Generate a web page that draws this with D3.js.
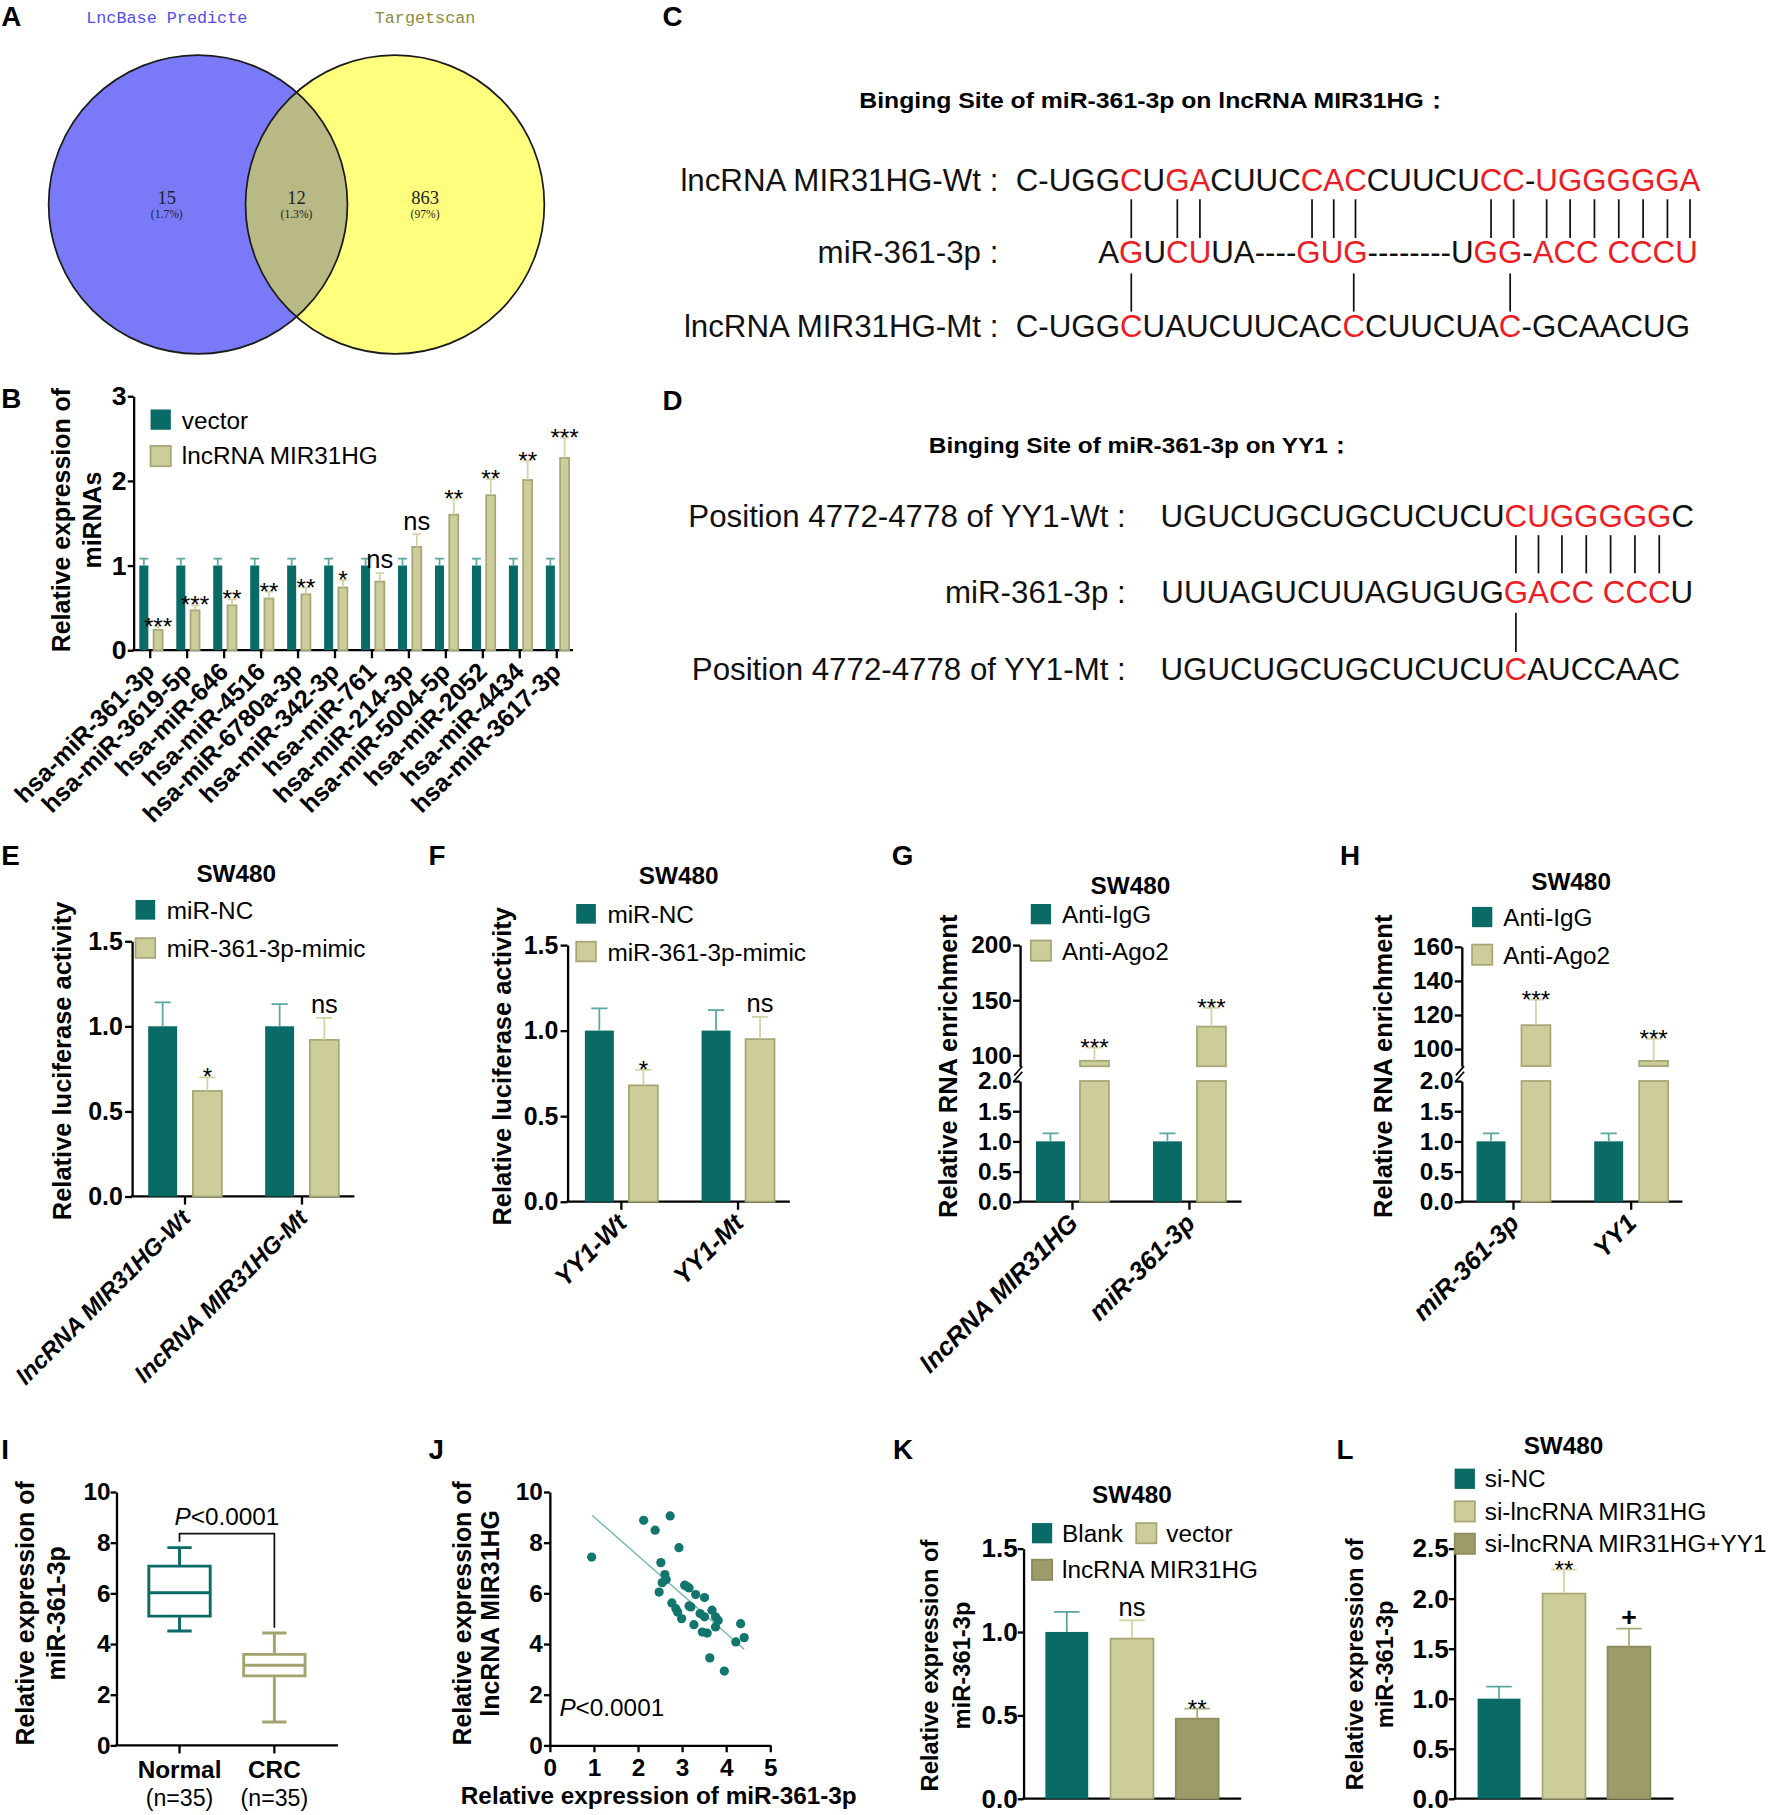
<!DOCTYPE html>
<html>
<head>
<meta charset="utf-8">
<title>MIR31HG / miR-361-3p / YY1</title>
<script src="https://cdn.jsdelivr.net/npm/d3@7"></script>
<style>
  body { margin: 0; background: #fff; }
  svg text { font-family: "Liberation Sans", Arial, Helvetica, sans-serif; }
</style>
</head>
<body>
<svg id="fig" width="1772" height="1815" viewBox="0 0 1530 1567"></svg>
<script>
// ---------- data ----------
// A: Venn
const vennSets = ["LncBase Predicte", "Targetscan"];
const vennCounts = [15, 12, 863];
const vennPct = ["(1.7%)", "(1.3%)", "(97%)"];

// B: miRNA screen
const bMirnas = ["hsa-miR-361-3p", "hsa-miR-3619-5p", "hsa-miR-646", "hsa-miR-4516",
  "hsa-miR-6780a-3p", "hsa-miR-342-3p", "hsa-miR-761", "hsa-miR-214-3p",
  "hsa-miR-5004-5p", "hsa-miR-2052", "hsa-miR-4434", "hsa-miR-3617-3p"];
const bVector = [1, 1, 1, 1, 1, 1, 1, 1, 1, 1, 1, 1];
const bVectorErr = [0.08, 0.08, 0.08, 0.08, 0.08, 0.08, 0.08, 0.08, 0.08, 0.08, 0.08, 0.08];
const bLnc = [0.24, 0.47, 0.53, 0.61, 0.66, 0.74, 0.81, 1.22, 1.60, 1.83, 2.01, 2.27];
const bLncErr = [0.04, 0.06, 0.07, 0.08, 0.08, 0.09, 0.10, 0.15, 0.19, 0.19, 0.23, 0.24];
const bSig = ["***", "***", "**", "**", "**", "*", "ns", "ns", "**", "**", "**", "***"];

// C / D: binding sites
const cRows = [
  { label: "lncRNA MIR31HG-Wt :", seq: "C-UGGCUGACUUCCACCUUCUCC-UGGGGGA", red: [5, 7, 8, 13, 14, 15, 21, 22, 24, 25, 26, 27, 28, 29, 30] },
  { label: "miR-361-3p :", seq: "AGUCUUA----GUG--------UGG-ACC CCCU", red: [1, 3, 4, 11, 12, 13, 23, 24, 26, 27, 28, 30, 31, 32, 33] },
  { label: "lncRNA MIR31HG-Mt :", seq: "C-UGGCUAUCUUCACCCUUCUAC-GCAACUG", red: [5, 15, 22] }
];
const cTopPairs = [[5, 1], [7, 3], [8, 4], [13, 11], [14, 12], [15, 13], [21, 23], [22, 24],
  [24, 26], [25, 27], [26, 28], [27, 30], [28, 31], [29, 32], [30, 33]];
const cBottomPairs = [[1, 5], [13, 15], [24, 22]];
const dRows = [
  { label: "Position 4772-4778 of YY1-Wt :", seq: "UGUCUGCUGCUCUCUCUGGGGGC", red: [15, 16, 17, 18, 19, 20, 21] },
  { label: "miR-361-3p :", seq: "UUUAGUCUUAGUGUGGACC CCCU", red: [15, 16, 17, 18, 20, 21, 22] },
  { label: "Position 4772-4778 of YY1-Mt :", seq: "UGUCUGCUGCUCUCUCAUCCAAC", red: [15] }
];
const dTopPairs = [[15, 15], [16, 16], [17, 17], [18, 18], [19, 20], [20, 21], [21, 22]];
const dBottomPairs = [[15, 15]];

// E / F: luciferase
const eGroups = ["lncRNA MIR31HG-Wt", "lncRNA MIR31HG-Mt"];
const eNC = [1, 1], eNCErr = [0.14, 0.13];
const eMimic = [0.62, 0.92], eMimicErr = [0.08, 0.13];
const eSig = ["*", "ns"];
const fGroups = ["YY1-Wt", "YY1-Mt"];
const fNC = [1, 1], fNCErr = [0.13, 0.12];
const fMimic = [0.68, 0.95], fMimicErr = [0.09, 0.13];
const fSig = ["*", "ns"];

// G / H: RIP
const gGroups = ["lncRNA MIR31HG", "miR-361-3p"];
const gIgG = [1, 1], gIgGErr = [0.13, 0.13];
const gAgo = [95, 126], gAgoErr = [12, 17];
const hGroups = ["miR-361-3p", "YY1"];
const hIgG = [1, 1], hIgGErr = [0.13, 0.13];
const hAgo = [114, 93], hAgoErr = [15, 13];
const ripSig = ["***", "***"];

// I: box plot
const iGroups = ["Normal", "CRC"];
const iCounts = ["(n=35)", "(n=35)"];
const iMin = [4.51, 0.92], iQ1 = [5.10, 2.74], iMed = [6.02, 3.16], iQ3 = [7.07, 3.59], iMax = [7.80, 4.43];

// J: correlation
const jX = [0.95, 2.13, 2.39, 2.73, 2.93, 2.52, 2.61, 2.64, 2.55, 2.48, 3.06, 3.16, 3.31, 3.51, 2.77, 2.86, 2.90, 2.99,
  3.16, 3.20, 3.41, 3.51, 3.68, 3.76, 3.82, 3.27, 3.46, 3.57, 3.76, 4.33, 4.22, 4.41, 3.63, 3.96, 3.10];
const jY = [7.43, 8.88, 8.49, 9.05, 7.80, 7.21, 6.74, 6.54, 6.42, 6.05, 6.32, 6.21, 5.95, 5.83, 5.62, 5.39, 5.26, 5.00,
  5.50, 5.46, 5.20, 5.07, 5.33, 5.07, 4.93, 4.76, 4.47, 4.43, 4.67, 4.80, 4.08, 4.25, 3.45, 2.93, 6.28];
const jFitX = [0.96, 4.41], jFitY = [9.08, 3.79];

// K / L
const kGroups = ["Blank", "vector", "lncRNA MIR31HG"];
const kVal = [1, 0.96, 0.48], kErr = [0.12, 0.11, 0.06], kSig = ["", "ns", "**"];
const lGroups = ["si-NC", "si-lncRNA MIR31HG", "si-lncRNA MIR31HG+YY1"];
const lVal = [1, 2.05, 1.52], lErr = [0.12, 0.24, 0.18], lSig = ["", "**", "+"];

// ---------- styling ----------
const TEAL = "#0a6a65", TEAL_ERR = "#5aa6a1";
const KHAKI = "#cdcd9b", KHAKI_LINE = "#a6a675", KHAKI_ERR = "#d2d2a3";
const OLIVE = "#9c9c6a", OLIVE_LINE = "#8b8b5b", OLIVE_ERR = "#a8a879";
const RED = "#ee1c24";

const svg = d3.select("#fig");
const defs = svg.append("defs");

function leftAxis(g, scale, x, ticks, fmt, fs, size, pad) {
  const a = g.append("g").attr("transform", `translate(${x},0)`)
    .call(d3.axisLeft(scale).tickValues(ticks).tickFormat(fmt)
      .tickSize(size).tickSizeOuter(0).tickPadding(pad));
  a.select(".domain").attr("stroke-width", 2);
  a.selectAll(".tick line").attr("stroke-width", 2);
  a.selectAll(".tick text").attr("font-size", fs).attr("font-weight", "bold").attr("fill", "#000");
  return a;
}

function baseAxis(g, x0, x1, y, centers) {
  g.append("line").attr("x1", x0 - 1).attr("x2", x1).attr("y1", y).attr("y2", y)
    .attr("stroke", "#000").attr("stroke-width", 2);
  g.selectAll(null).data(centers).join("line")
    .attr("x1", d => d).attr("x2", d => d).attr("y1", y).attr("y2", y + 7)
    .attr("stroke", "#000").attr("stroke-width", 2);
}

function errBars(g, items, y, cap) {
  g.selectAll(null).data(items).join("path")
    .attr("d", d => `M${d.cx},${y(d.v)}V${y(d.v + d.e)}M${d.cx - cap},${y(d.v + d.e)}H${d.cx + cap}`)
    .attr("fill", "none").attr("stroke", d => d.ec).attr("stroke-width", 1.5);
}

function drawBars(g, items, y, bw, cap) {
  g.selectAll(null).data(items).join("rect")
    .attr("x", d => d.cx - bw / 2).attr("width", bw)
    .attr("y", d => y(d.v)).attr("height", d => y(0) - y(d.v))
    .attr("fill", d => d.fill).attr("stroke", d => d.stroke || "none").attr("stroke-width", 1.5);
  errBars(g, items, y, cap);
}

function sigMark(g, x, yTop, s) {
  if (!s) return;
  const t = g.append("text").attr("x", x).attr("text-anchor", "middle").text(s);
  if (s === "ns") t.attr("y", yTop - 4).attr("font-size", 22);
  else if (s === "+") t.attr("y", yTop - 2).attr("font-size", 23).attr("font-weight", "bold");
  else t.attr("y", yTop + 7).attr("font-size", 21);
}

function yTitle(g, lines, xs, y, fs) {
  lines.forEach((s, i) => g.append("text")
    .attr("transform", `translate(${xs[i]},${y}) rotate(-90)`)
    .attr("text-anchor", "middle").attr("font-size", fs).attr("font-weight", "bold").text(s));
}

function slantLabels(g, labels, xs, y0, fs, italic, dx) {
  g.selectAll(null).data(labels).join("text")
    .attr("transform", (d, i) => `translate(${xs[i] + dx},${y0 + 20}) rotate(-45)`)
    .attr("text-anchor", "end").attr("font-size", fs).attr("font-weight", "bold")
    .attr("font-style", italic ? "italic" : null).text(d => d);
}

function legend(g, entries, size) {
  g.selectAll(null).data(entries).join("rect")
    .attr("x", d => d.x).attr("y", d => d.y).attr("width", size).attr("height", size)
    .attr("fill", d => d.fill).attr("stroke", d => d.stroke || "none").attr("stroke-width", 1.5);
  g.selectAll(null).data(entries).join("text")
    .attr("x", d => d.tx).attr("y", d => d.ty).attr("font-size", 21).text(d => d.text);
}

function title(g, x, y, s) {
  g.append("text").attr("x", x).attr("y", y).attr("text-anchor", "middle")
    .attr("font-size", 21).attr("font-weight", "bold").text(s);
}

// ---------- panel letters ----------
const letters = ["A", "B", "C", "D", "E", "F", "G", "H", "I", "J", "K", "L"];
const letterXY = [[1, 22], [1, 352], [572, 22], [572, 354], [1, 747], [370, 747], [770, 747], [1157, 747],
  [1, 1260], [370, 1260], [771, 1260], [1154, 1260]];
svg.append("g").selectAll("text").data(letters).join("text")
  .attr("x", (d, i) => letterXY[i][0]).attr("y", (d, i) => letterXY[i][1])
  .attr("font-size", 24).attr("font-weight", "bold").text(d => d);

// ---------- A: Venn ----------
{
  const g = svg.append("g");
  const cx = [171, 341], cy = 176.5, r = 129;
  defs.append("clipPath").attr("id", "vennLeft").append("circle").attr("cx", cx[0]).attr("cy", cy).attr("r", r);
  g.append("circle").attr("cx", cx[0]).attr("cy", cy).attr("r", r).attr("fill", "#7a7af8");
  g.append("circle").attr("cx", cx[1]).attr("cy", cy).attr("r", r).attr("fill", "#ffff7e");
  g.append("circle").attr("cx", cx[1]).attr("cy", cy).attr("r", r).attr("fill", "#b9b985")
    .attr("clip-path", "url(#vennLeft)");
  g.selectAll(".ring").data(cx).join("circle").attr("class", "ring")
    .attr("cx", d => d).attr("cy", cy).attr("r", r)
    .attr("fill", "none").attr("stroke", "#1a1a1a").attr("stroke-width", 1.5);
  g.selectAll(".setname").data(vennSets).join("text").attr("class", "setname")
    .attr("x", (d, i) => [144, 367][i]).attr("y", 19.5).attr("text-anchor", "middle")
    .attr("font-size", 14.5).attr("fill", (d, i) => ["#5050f0", "#8c8c40"][i])
    .style("font-family", '"Liberation Mono", "DejaVu Sans Mono", monospace').text(d => d);
  const lx = [144, 256, 367];
  g.selectAll(".cnt").data(vennCounts).join("text").attr("class", "cnt")
    .attr("x", (d, i) => lx[i]).attr("y", 176).attr("text-anchor", "middle").attr("font-size", 16)
    .attr("fill", "#222").style("font-family", '"Liberation Serif", "DejaVu Serif", serif').text(d => d);
  g.selectAll(".pct").data(vennPct).join("text").attr("class", "pct")
    .attr("x", (d, i) => lx[i]).attr("y", 188).attr("text-anchor", "middle").attr("font-size", 10)
    .attr("fill", "#222").style("font-family", '"Liberation Serif", "DejaVu Serif", serif').text(d => d);
}

// ---------- B: miRNA screen ----------
{
  const g = svg.append("g");
  const y = d3.scaleLinear().domain([0, 3]).range([561.3, 342]);
  const x = d3.scalePoint().domain(bMirnas).range([129.7, 480.7]);
  leftAxis(g, y, 115.3, [0, 1, 2, 3], d3.format("d"), 23, 5, 1);
  baseAxis(g, 115.3, 494.8, y(0), bMirnas.map(x));
  const vec = bMirnas.map((m, i) => ({ cx: x(m) - 5.5, v: bVector[i], e: bVectorErr[i], fill: TEAL, ec: TEAL_ERR }));
  const lnc = bMirnas.map((m, i) => ({ cx: x(m) + 6.8, v: bLnc[i], e: bLncErr[i], fill: KHAKI, stroke: KHAKI_LINE, ec: KHAKI_ERR }));
  drawBars(g, vec, y, 7.8, 3.8);
  drawBars(g, lnc, y, 7.8, 3.8);
  lnc.forEach((d, i) => sigMark(g, d.cx, y(d.v + d.e), bSig[i]));
  slantLabels(g, bMirnas, bMirnas.map(x), y(0), 21.5, false, 5);
  yTitle(g, ["Relative expression of", "miRNAs"], [60.5, 87], 449, 21.5);
  legend(g, [
    { x: 130, y: 353.5, fill: TEAL, text: "vector", tx: 157, ty: 370 },
    { x: 130, y: 385, fill: KHAKI, stroke: KHAKI_LINE, text: "lncRNA MIR31HG", tx: 157, ty: 401 }
  ], 17.5);
}

// ---------- C / D: binding sites ----------
function seqBlock(rows, topPairs, bottomPairs, p) {
  const g = svg.append("g");
  g.append("text").attr("x", p.titleX).attr("y", p.titleY).attr("font-size", 19.5).attr("font-weight", "bold")
    .attr("textLength", p.titleW).attr("lengthAdjust", "spacingAndGlyphs").text(p.title);
  const nodes = rows.map((r, i) => {
    g.append("text").attr("x", p.labelX).attr("y", p.rowY[i]).attr("text-anchor", "end")
      .attr("font-size", 27).attr("fill", "#111").text(r.label);
    const t = g.append("text").attr("x", p.seqX).attr("y", p.rowY[i]).attr("font-size", 27);
    t.selectAll("tspan").data(r.seq.split("")).join("tspan")
      .attr("fill", (c, j) => r.red.includes(j) ? RED : "#111")
      .text(c => c === " " ? "\u00a0" : c);
    return t.node();
  });
  const mid = (node, i) => { const b = node.getExtentOfChar(i); return b.x + b.width / 2; };
  // slide the miRNA row so that its first paired base sits under its partner
  const [a1, a2] = topPairs[0];
  nodes[1].setAttribute("x", p.seqX + mid(nodes[0], a1) - mid(nodes[1], a2));
  g.selectAll(".top").data(topPairs).join("line").attr("class", "top")
    .attr("x1", d => mid(nodes[0], d[0])).attr("x2", d => mid(nodes[0], d[0]))
    .attr("y1", p.topLine[0]).attr("y2", p.topLine[1]).attr("stroke", "#111").attr("stroke-width", 1.5);
  g.selectAll(".bot").data(bottomPairs).join("line").attr("class", "bot")
    .attr("x1", d => mid(nodes[2], d[1])).attr("x2", d => mid(nodes[2], d[1]))
    .attr("y1", p.botLine[0]).attr("y2", p.botLine[1]).attr("stroke", "#111").attr("stroke-width", 1.5);
}
seqBlock(cRows, cTopPairs, cBottomPairs, {
  title: "Binging Site of miR-361-3p on lncRNA MIR31HG\uff1a", titleX: 742, titleY: 93, titleW: 509,
  labelX: 862, seqX: 877, rowY: [164.6, 227, 291], topLine: [172, 205.5], botLine: [236, 269]
});
seqBlock(dRows, dTopPairs, dBottomPairs, {
  title: "Binging Site of miR-361-3p on YY1\uff1a", titleX: 802, titleY: 391.5, titleW: 366,
  labelX: 972, seqX: 1002, rowY: [455, 521, 587], topLine: [462, 495], botLine: [529, 563]
});

// ---------- E / F: luciferase ----------
function luciferase(p) {
  const g = svg.append("g");
  const y = d3.scaleLinear().domain([0, 1.5]).range(p.yRange);
  const x = d3.scalePoint().domain(p.groups).range(p.xRange);
  leftAxis(g, y, p.axisX, [0, 0.5, 1, 1.5], d3.format(".1f"), 21.5, 6, 2);
  baseAxis(g, p.axisX, p.xEnd, y(0), p.groups.map(x));
  const nc = p.groups.map((k, i) => ({ cx: x(k) - p.off, v: p.nc[i], e: p.ncErr[i], fill: TEAL, ec: TEAL_ERR }));
  const mm = p.groups.map((k, i) => ({ cx: x(k) + p.off, v: p.mimic[i], e: p.mimicErr[i], fill: KHAKI, stroke: KHAKI_LINE, ec: KHAKI_ERR }));
  drawBars(g, nc, y, 25, 7);
  drawBars(g, mm, y, 25, 7);
  mm.forEach((d, i) => sigMark(g, d.cx, y(d.v + d.e), p.sig[i]));
  slantLabels(g, p.groups, p.groups.map(x), y(0), p.labelFs, true, 6);
  yTitle(g, ["Relative luciferase activity"], [p.yTitleX], p.yTitleY, 22);
  title(g, p.titleX, p.titleY, "SW480");
  legend(g, [
    { x: p.legX, y: p.legY[0], fill: TEAL, text: "miR-NC", tx: p.legX + 27, ty: p.legY[0] + 16.5 },
    { x: p.legX, y: p.legY[1], fill: KHAKI, stroke: KHAKI_LINE, text: "miR-361-3p-mimic", tx: p.legX + 27, ty: p.legY[1] + 16.5 }
  ], 17);
}
luciferase({ groups: eGroups, nc: eNC, ncErr: eNCErr, mimic: eMimic, mimicErr: eMimicErr, sig: eSig,
  yRange: [1033, 812.6], xRange: [159.75, 260.75], axisX: 114, xEnd: 306, off: 19.3, labelFs: 20.5,
  yTitleX: 61, yTitleY: 916, titleX: 204, titleY: 761.5, legX: 117, legY: [777, 810] });
luciferase({ groups: fGroups, nc: fNC, ncErr: fNCErr, mimic: fMimic, mimicErr: fMimicErr, sig: fSig,
  yRange: [1037.5, 815.9], xRange: [536.5, 637.25], axisX: 490, xEnd: 682, off: 19, labelFs: 22,
  yTitleX: 441, yTitleY: 920.6, titleX: 586, titleY: 763.5, legX: 497.5, legY: [780.5, 813] });

// ---------- G / H: RIP with broken axis ----------
function ripPanel(p) {
  const g = svg.append("g");
  const yLo = d3.scaleLinear().domain([0, 2]).range([1037.5, 933.3]);
  const yHi = d3.scaleLinear().domain(p.hiDomain).range(p.hiRange);
  const x = d3.scalePoint().domain(p.groups).range(p.xRange);
  leftAxis(g, yLo, p.axisX, [0, 0.5, 1, 1.5, 2], d3.format(".1f"), 21, 6, 1);
  leftAxis(g, yHi, p.axisX, p.hiTicks, d3.format("d"), 21, 6, 1);
  g.selectAll(".brk").data([yLo(2) - 4, yHi(p.hiDomain[0]) + 4]).join("line").attr("class", "brk")
    .attr("x1", p.axisX - 5).attr("x2", p.axisX + 2).attr("y1", d => d + 4).attr("y2", d => d - 4)
    .attr("stroke", "#000").attr("stroke-width", 1.5);
  baseAxis(g, p.axisX, p.xEnd, yLo(0), p.groups.map(x));
  const igg = p.groups.map((k, i) => ({ cx: x(k) - p.off, v: p.igg[i], e: p.iggErr[i], fill: TEAL, ec: TEAL_ERR }));
  drawBars(g, igg, yLo, 25, 7);
  const ago = p.groups.map((k, i) => ({ cx: x(k) + p.off, v: p.ago[i], e: p.agoErr[i], ec: KHAKI_ERR }));
  g.selectAll(".lo").data(ago).join("rect").attr("class", "lo")
    .attr("x", d => d.cx - 12.5).attr("width", 25).attr("y", yLo(2)).attr("height", yLo(0) - yLo(2))
    .attr("fill", KHAKI).attr("stroke", KHAKI_LINE).attr("stroke-width", 1.5);
  g.selectAll(".hi").data(ago).join("rect").attr("class", "hi")
    .attr("x", d => d.cx - 12.5).attr("width", 25).attr("y", d => yHi(d.v))
    .attr("height", d => yHi(p.hiDomain[0]) - yHi(d.v))
    .attr("fill", KHAKI).attr("stroke", KHAKI_LINE).attr("stroke-width", 1.5);
  errBars(g, ago, yHi, 7);
  ago.forEach((d, i) => sigMark(g, d.cx, yHi(d.v + d.e), ripSig[i]));
  slantLabels(g, p.groups, p.groups.map(x), yLo(0), 22, true, 6);
  yTitle(g, ["Relative RNA enrichment"], [p.yTitleX], 920.6, 22);
  title(g, p.titleX, p.titleY, "SW480");
  legend(g, [
    { x: p.legX, y: p.legY[0], fill: TEAL, text: "Anti-IgG", tx: p.legX + 27, ty: p.legY[0] + 16.5 },
    { x: p.legX, y: p.legY[1], fill: KHAKI, stroke: KHAKI_LINE, text: "Anti-Ago2", tx: p.legX + 27, ty: p.legY[1] + 16.5 }
  ], 17.5);
}
ripPanel({ groups: gGroups, igg: gIgG, iggErr: gIgGErr, ago: gAgo, agoErr: gAgoErr,
  hiDomain: [90, 200], hiRange: [920.6, 815.9], hiTicks: [100, 150, 200],
  xRange: [926, 1027], axisX: 880.7, xEnd: 1072, off: 19,
  yTitleX: 826.5, titleX: 976, titleY: 771.5, legX: 890, legY: [780.5, 812] });
ripPanel({ groups: hGroups, igg: hIgG, iggErr: hIgGErr, ago: hAgo, agoErr: hAgoErr,
  hiDomain: [90, 160], hiRange: [920.4, 817.4], hiTicks: [100, 120, 140, 160],
  xRange: [1306.8, 1408.4], axisX: 1262.1, xEnd: 1452.6, off: 19.4,
  yTitleX: 1202, titleX: 1356.5, titleY: 768.5, legX: 1271, legY: [783, 815.5] });

// ---------- I: box plot ----------
{
  const g = svg.append("g");
  const y = d3.scaleLinear().domain([0, 10]).range([1506.9, 1288.1]);
  const x = d3.scalePoint().domain(iGroups).range([155, 236.9]);
  leftAxis(g, y, 100.5, d3.range(0, 11, 2), d3.format("d"), 21, 5, 0);
  baseAxis(g, 100.5, 291.8, y(0), iGroups.map(x));
  const boxColor = [TEAL, "#a3a36e"];
  const boxes = iGroups.map((k, i) => ({ cx: x(k), lo: iMin[i], q1: iQ1[i], md: iMed[i], q3: iQ3[i], hi: iMax[i], c: boxColor[i] }));
  g.selectAll(".box").data(boxes).join("path").attr("class", "box")
    .attr("d", d => `M${d.cx - 26.5},${y(d.q3)}H${d.cx + 26.5}V${y(d.q1)}H${d.cx - 26.5}Z` +
      `M${d.cx - 26.5},${y(d.md)}H${d.cx + 26.5}` +
      `M${d.cx},${y(d.q3)}V${y(d.hi)}M${d.cx - 10.5},${y(d.hi)}H${d.cx + 10.5}` +
      `M${d.cx},${y(d.q1)}V${y(d.lo)}M${d.cx - 10.5},${y(d.lo)}H${d.cx + 10.5}`)
    .attr("fill", "none").attr("stroke", d => d.c).attr("stroke-width", 2.5);
  const bracket = [8.03, 8.35, 4.64];
  g.append("path")
    .attr("d", `M${x("Normal")},${y(bracket[0])}V${y(bracket[1])}H${x("CRC")}V${y(bracket[2])}`)
    .attr("fill", "none").attr("stroke", "#111").attr("stroke-width", 1.5);
  const pt = g.append("text").attr("x", 196).attr("y", 1317).attr("text-anchor", "middle").attr("font-size", 21);
  pt.append("tspan").attr("font-style", "italic").text("P");
  pt.append("tspan").text("<0.0001");
  g.selectAll(".cat").data(iGroups).join("text").attr("class", "cat")
    .attr("x", d => x(d)).attr("y", 1535.5).attr("text-anchor", "middle")
    .attr("font-size", 21).attr("font-weight", "bold").text(d => d);
  g.selectAll(".n").data(iCounts).join("text").attr("class", "n")
    .attr("x", (d, i) => x(iGroups[i])).attr("y", 1559).attr("text-anchor", "middle")
    .attr("font-size", 20).text(d => d);
  yTitle(g, ["Relative expression of", "miR-361-3p"], [29, 56], 1393, 21.5);
}

// ---------- J: correlation ----------
{
  const g = svg.append("g");
  const y = d3.scaleLinear().domain([0, 10]).range([1506.9, 1288.1]);
  const x = d3.scaleLinear().domain([0, 5]).range([474.7, 665]);
  leftAxis(g, y, 474.7, d3.range(0, 11, 2), d3.format("d"), 21, 5, 1);
  const ax = g.append("g").attr("transform", `translate(0,${y(0)})`)
    .call(d3.axisBottom(x).ticks(5).tickFormat(d3.format("d")).tickSize(6).tickSizeOuter(0).tickPadding(6));
  ax.select(".domain").attr("stroke-width", 2);
  ax.selectAll(".tick line").attr("stroke-width", 2);
  ax.selectAll(".tick text").attr("font-size", 21).attr("font-weight", "bold").attr("fill", "#000");
  g.append("line").attr("x1", x(jFitX[0])).attr("y1", y(jFitY[0])).attr("x2", x(jFitX[1])).attr("y2", y(jFitY[1]))
    .attr("stroke", "#7bbab5").attr("stroke-width", 1.3);
  g.selectAll(".pt").data(jX).join("circle").attr("class", "pt")
    .attr("cx", d => x(d)).attr("cy", (d, i) => y(jY[i])).attr("r", 4).attr("fill", "#12756e");
  const pt = g.append("text").attr("x", 483).attr("y", 1482).attr("font-size", 21);
  pt.append("tspan").attr("font-style", "italic").text("P");
  pt.append("tspan").text("<0.0001");
  g.append("text").attr("x", 568.8).attr("y", 1558).attr("text-anchor", "middle")
    .attr("font-size", 21).attr("font-weight", "bold").text("Relative expression of miR-361-3p");
  yTitle(g, ["Relative expression of", "lncRNA MIR31HG"], [406.6, 431], 1393, 21.5);
}

// ---------- K / L ----------
function singleBars(p) {
  const g = svg.append("g");
  const y = d3.scaleLinear().domain(p.yDomain).range(p.yRange);
  const x = d3.scalePoint().domain(p.groups).range(p.xRange);
  leftAxis(g, y, p.axisX, p.ticks, d3.format(".1f"), 22.5, 5, 0);
  baseAxis(g, p.axisX, p.xEnd, y(0), []);
  const fills = [TEAL, KHAKI, OLIVE], lines = [null, KHAKI_LINE, OLIVE_LINE], errs = [TEAL_ERR, KHAKI_ERR, OLIVE_ERR];
  const items = p.groups.map((k, i) => ({ cx: x(k), v: p.vals[i], e: p.errs[i], fill: fills[i], stroke: lines[i], ec: errs[i] }));
  drawBars(g, items, y, 37, 11);
  items.forEach((d, i) => sigMark(g, d.cx, y(d.v + d.e), p.sig[i]));
  yTitle(g, ["Relative expression of", "miR-361-3p"], p.yTitleX, p.yTitleY, 20.5);
  title(g, p.titleX, p.titleY, "SW480");
  legend(g, p.groups.map((k, i) => ({ x: p.leg[i][0], y: p.leg[i][1], fill: fills[i], stroke: lines[i],
    text: k, tx: p.leg[i][0] + 26, ty: p.leg[i][1] + 16 })), 17.5);
}
singleBars({ groups: kGroups, vals: kVal, errs: kErr, sig: kSig,
  yDomain: [0, 1.5], yRange: [1553, 1337], ticks: [0, 0.5, 1, 1.5],
  xRange: [921.1, 1033.7], axisX: 883.7, xEnd: 1071.7,
  yTitleX: [810, 837.4], yTitleY: 1438, titleX: 977.3, titleY: 1297.5,
  leg: [[891, 1315], [981, 1315], [891, 1346.6]] });
singleBars({ groups: lGroups, vals: lVal, errs: lErr, sig: lSig,
  yDomain: [0, 2.5], yRange: [1553, 1337], ticks: [0, 0.5, 1, 1.5, 2, 2.5],
  xRange: [1294.3, 1406.5], axisX: 1255.9, xEnd: 1445,
  yTitleX: [1177, 1203], yTitleY: 1437, titleX: 1350, titleY: 1255.7,
  leg: [[1256, 1268], [1256, 1296.2], [1256, 1324.1]] });
</script>
</body>
</html>
